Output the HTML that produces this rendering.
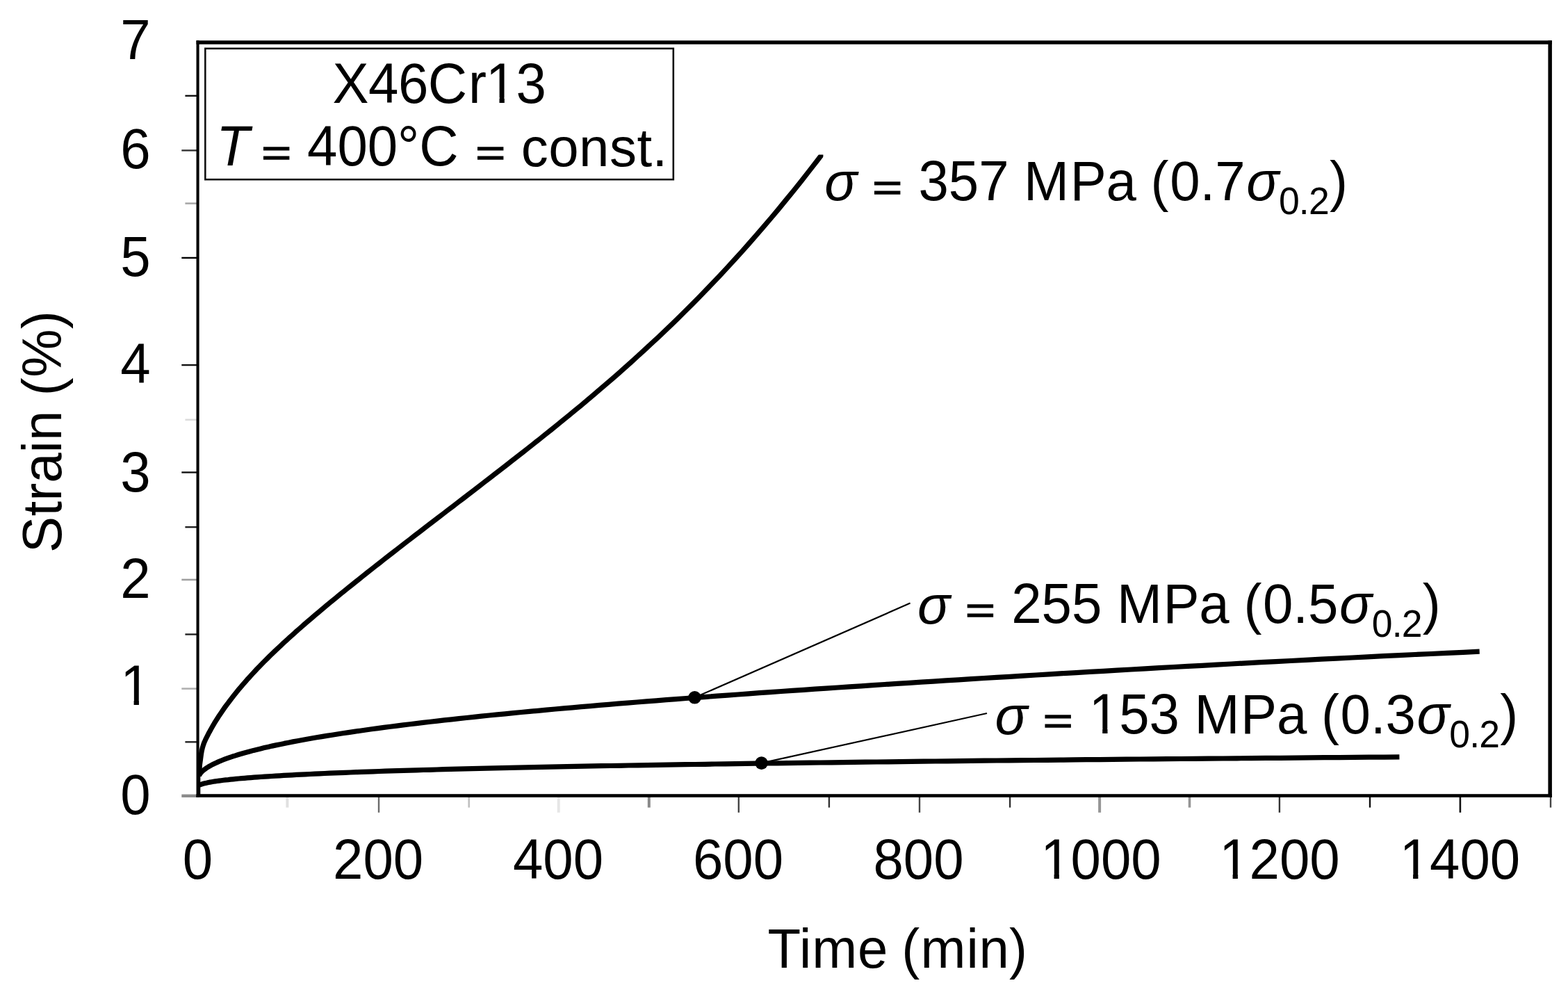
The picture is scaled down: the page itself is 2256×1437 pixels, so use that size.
<!DOCTYPE html>
<html lang="en">
<head>
<meta charset="utf-8">
<title>Creep curves of X46Cr13 at 400 °C</title>
<style>
html,body{margin:0;padding:0;background:#fff;}
body{width:2256px;height:1437px;overflow:hidden;}
svg{display:block;}
text{font-family:"Liberation Sans",sans-serif;font-size:78px;fill:#000;font-kerning:none;font-variant-ligatures:none;}
.i{font-style:italic;}
</style>
</head>
<body>
<svg xmlns="http://www.w3.org/2000/svg" width="2256" height="1437" viewBox="0 0 2256 1437">
<defs>
<filter id="soft" filterUnits="userSpaceOnUse" x="0" y="0" width="2256" height="1437" color-interpolation-filters="sRGB"><feGaussianBlur stdDeviation="0.70"/></filter>
<clipPath id="tipclip"><rect x="0" y="222.4" width="1184.4" height="1000"/></clipPath>
<clipPath id="f1"><path clip-rule="evenodd" d="M-3000 -3000H6000V6000H-3000ZM176.7 1007.3h15.9v10.5h-15.9ZM199.9 1007.3h15.4v10.5h-15.4Z"/></clipPath>
<clipPath id="f2"><path clip-rule="evenodd" d="M-3000 -3000H6000V6000H-3000ZM1500.7 1256.8h15.9v10.5h-15.9ZM1523.9 1256.8h15.4v10.5h-15.4Z"/></clipPath>
<clipPath id="f3"><path clip-rule="evenodd" d="M-3000 -3000H6000V6000H-3000ZM1757.7 1256.8h15.9v10.5h-15.9ZM1780.9 1256.8h15.4v10.5h-15.4Z"/></clipPath>
<clipPath id="f4"><path clip-rule="evenodd" d="M-3000 -3000H6000V6000H-3000ZM2017.2 1256.8h15.9v10.5h-15.9ZM2040.4 1256.8h15.4v10.5h-15.4Z"/></clipPath>
<clipPath id="f5"><path clip-rule="evenodd" d="M-3000 -3000H6000V6000H-3000ZM702.6 140.4h15.9v10.5h-15.9ZM725.8 140.4h15.4v10.5h-15.4Z"/></clipPath>
<clipPath id="f6"><path clip-rule="evenodd" d="M-3000 -3000H6000V6000H-3000ZM1570.3 1048.3h15.9v10.5h-15.9ZM1593.5 1048.3h15.4v10.5h-15.4Z"/></clipPath>
</defs>
<rect x="0" y="0" width="2256" height="1437" fill="#fff"/>
<g filter="url(#soft)">
<g fill="none">
<line x1="261.3" y1="990.6" x2="283.5" y2="990.6" stroke="#b0b0b0" stroke-width="2.6"/>
<line x1="261.3" y1="833.9" x2="283.5" y2="833.9" stroke="#a0a0a0" stroke-width="2.6"/>
<line x1="261.3" y1="679.5" x2="283.5" y2="679.5" stroke="#111" stroke-width="2.4"/>
<line x1="261.3" y1="525.1" x2="283.5" y2="525.1" stroke="#111" stroke-width="2.4"/>
<line x1="261.3" y1="370.9" x2="283.5" y2="370.9" stroke="#000" stroke-width="2.4"/>
<line x1="261.3" y1="216.4" x2="283.5" y2="216.4" stroke="#333" stroke-width="2.4"/>
<line x1="266.4" y1="1067.3" x2="283.5" y2="1067.3" stroke="#222" stroke-width="2.4"/>
<line x1="266.4" y1="912.5" x2="283.5" y2="912.5" stroke="#222" stroke-width="2.4"/>
<line x1="266.4" y1="758.2" x2="283.5" y2="758.2" stroke="#222" stroke-width="2.4"/>
<line x1="266.4" y1="603.8" x2="283.5" y2="603.8" stroke="#dcdcdc" stroke-width="2.6"/>
<line x1="266.4" y1="292.6" x2="283.5" y2="292.6" stroke="#a8a8a8" stroke-width="2.6"/>
<line x1="266.4" y1="137.8" x2="283.5" y2="137.8" stroke="#111" stroke-width="2.4"/>
<line x1="545.0" y1="1145.9" x2="545.0" y2="1168.8" stroke="#6a6a6a" stroke-width="2.4"/>
<line x1="803.7" y1="1145.9" x2="803.7" y2="1168.8" stroke="#e6e6e6" stroke-width="4.0"/>
<line x1="1062.8" y1="1145.9" x2="1062.8" y2="1168.8" stroke="#444" stroke-width="2.4"/>
<line x1="1323.0" y1="1145.9" x2="1323.0" y2="1168.8" stroke="#444" stroke-width="2.4"/>
<line x1="1582.1" y1="1145.9" x2="1582.1" y2="1168.8" stroke="#959595" stroke-width="4.0"/>
<line x1="1840.9" y1="1145.9" x2="1840.9" y2="1168.8" stroke="#333" stroke-width="2.4"/>
<line x1="2100.9" y1="1145.9" x2="2100.9" y2="1168.8" stroke="#111" stroke-width="2.6"/>
<line x1="413.4" y1="1145.9" x2="413.4" y2="1161.6" stroke="#e0e0e0" stroke-width="4.0"/>
<line x1="674.7" y1="1145.9" x2="674.7" y2="1161.6" stroke="#c0c0c0" stroke-width="2.6"/>
<line x1="933.8" y1="1145.9" x2="933.8" y2="1161.6" stroke="#888" stroke-width="4.0"/>
<line x1="1192.9" y1="1145.9" x2="1192.9" y2="1161.6" stroke="#333" stroke-width="2.4"/>
<line x1="1453.1" y1="1145.9" x2="1453.1" y2="1161.6" stroke="#333" stroke-width="2.4"/>
<line x1="1711.5" y1="1145.9" x2="1711.5" y2="1161.6" stroke="#959595" stroke-width="3.6"/>
<line x1="1971.0" y1="1145.9" x2="1971.0" y2="1161.6" stroke="#111" stroke-width="2.4"/>
<line x1="2231.0" y1="1145.9" x2="2231.0" y2="1161.6" stroke="#444" stroke-width="2.4"/>
<rect x="261.3" y="1142.6" width="22" height="4.4" fill="#8c8c8c" stroke="none"/>
</g>
<g fill="#000">
<rect x="282.5" y="58.3" width="4.1" height="1088.6"/>
<rect x="2227.4" y="58.3" width="5.5" height="1088.6"/>
<rect x="282.5" y="58.3" width="1950.4" height="5.4"/>
<rect x="282.5" y="1142.2" width="1950.4" height="4.7"/>
</g>
<rect x="285.0" y="1086.0" width="3.3" height="58.0" fill="#000"/>
<rect x="295.3" y="69.8" width="673.5" height="188.4" fill="none" stroke="#111" stroke-width="2.6"/>
<g fill="none" stroke="#000" stroke-width="7.2" stroke-linecap="butt" stroke-linejoin="round">
<path clip-path="url(#tipclip)" d="M286.9 1112.0 L287.3 1101.0 L288.6 1091.5 L289.4 1085.2 L290.3 1079.9 L291.3 1075.6 L292.4 1072.0 L293.5 1068.8 L294.7 1066.1 L295.9 1063.4 L297.3 1060.7 L298.7 1057.9 L300.1 1055.1 L301.7 1052.2 L303.3 1049.2 L305.0 1046.3 L306.7 1043.3 L308.5 1040.2 L310.4 1037.1 L312.4 1034.0 L314.4 1030.8 L316.5 1027.7 L318.7 1024.5 L320.9 1021.2 L323.2 1017.9 L325.6 1014.6 L328.1 1011.3 L330.6 1008.0 L333.2 1004.6 L335.8 1001.2 L338.6 997.8 L341.4 994.3 L344.2 990.8 L347.2 987.4 L350.2 983.8 L353.3 980.3 L356.4 976.7 L359.7 973.2 L362.9 969.6 L366.3 966.0 L369.7 962.3 L373.2 958.7 L376.8 955.0 L380.5 951.3 L384.2 947.6 L387.9 943.9 L391.8 940.2 L395.7 936.4 L399.7 932.6 L403.8 928.8 L407.9 924.9 L412.1 921.1 L416.4 917.2 L420.7 913.3 L425.1 909.3 L429.6 905.4 L434.2 901.4 L438.8 897.3 L443.5 893.3 L448.3 889.2 L453.1 885.1 L458.0 880.9 L463.0 876.7 L468.0 872.5 L473.1 868.3 L478.3 864.0 L483.6 859.7 L488.9 855.3 L494.3 851.0 L499.8 846.5 L505.3 842.1 L510.9 837.6 L516.6 833.1 L522.3 828.5 L528.1 823.9 L534.0 819.2 L540.0 814.5 L546.0 809.8 L552.1 805.0 L558.3 800.2 L564.5 795.4 L570.8 790.5 L577.2 785.5 L583.6 780.5 L590.2 775.5 L596.7 770.4 L603.4 765.3 L610.1 760.1 L616.9 754.9 L623.8 749.6 L630.7 744.3 L637.7 739.0 L644.8 733.5 L652.0 728.1 L659.2 722.5 L666.5 717.0 L673.8 711.3 L681.3 705.6 L688.8 699.9 L696.3 694.0 L704.0 688.2 L711.7 682.2 L719.5 676.2 L727.3 670.1 L735.2 663.9 L743.2 657.7 L751.3 651.4 L759.4 645.0 L767.6 638.5 L775.9 632.0 L784.2 625.3 L792.6 618.6 L801.1 611.8 L809.6 604.8 L818.3 597.8 L827.0 590.6 L835.7 583.4 L844.5 576.0 L853.4 568.5 L862.4 560.8 L871.5 553.1 L880.6 545.2 L889.8 537.2 L899.0 529.0 L908.3 520.7 L917.7 512.2 L927.2 503.5 L936.7 494.7 L946.3 485.8 L956.0 476.6 L965.7 467.3 L975.5 457.8 L985.4 448.0 L995.4 438.1 L1005.4 427.9 L1015.5 417.6 L1025.6 407.0 L1035.9 396.2 L1046.2 385.1 L1056.6 373.8 L1067.0 362.3 L1077.5 350.5 L1088.1 338.4 L1098.7 326.1 L1109.5 313.5 L1120.3 300.6 L1131.1 287.4 L1142.1 274.0 L1153.1 260.2 L1164.1 246.1 L1175.3 231.7 L1186.5 217.0"/>
<path d="M286.3 1115.6 L288.6 1112.0 L289.8 1110.7 L291.2 1109.3 L292.8 1108.0 L294.5 1106.7 L296.3 1105.3 L298.3 1104.0 L300.5 1102.7 L302.8 1101.4 L305.2 1100.0 L307.8 1098.7 L310.6 1097.4 L313.5 1096.1 L316.5 1094.8 L319.7 1093.5 L323.1 1092.2 L326.6 1090.9 L330.2 1089.6 L334.0 1088.3 L338.0 1087.1 L342.1 1085.8 L346.3 1084.5 L350.7 1083.2 L355.3 1082.0 L360.0 1080.7 L364.8 1079.4 L369.8 1078.2 L375.0 1076.9 L380.3 1075.6 L385.7 1074.4 L391.3 1073.1 L397.1 1071.9 L403.0 1070.7 L409.0 1069.4 L415.2 1068.2 L421.6 1066.9 L428.1 1065.7 L434.7 1064.5 L441.5 1063.3 L448.5 1062.0 L455.6 1060.8 L462.8 1059.6 L470.2 1058.4 L477.8 1057.2 L485.5 1056.0 L493.3 1054.8 L501.3 1053.6 L509.5 1052.4 L517.8 1051.2 L526.2 1050.0 L534.8 1048.8 L543.6 1047.6 L552.5 1046.4 L561.5 1045.3 L570.7 1044.1 L580.1 1042.9 L589.6 1041.7 L599.2 1040.6 L609.0 1039.4 L619.0 1038.2 L629.1 1037.1 L639.3 1035.9 L649.7 1034.8 L660.3 1033.6 L671.0 1032.5 L681.8 1031.3 L692.8 1030.2 L704.0 1029.0 L715.3 1027.9 L726.7 1026.8 L738.3 1025.6 L750.1 1024.5 L762.0 1023.4 L774.0 1022.3 L786.2 1021.1 L798.6 1020.0 L811.1 1018.9 L823.7 1017.8 L836.5 1016.7 L849.5 1015.6 L862.6 1014.4 L875.8 1013.3 L889.2 1012.2 L902.8 1011.1 L916.5 1010.0 L930.3 1008.9 L944.3 1007.8 L958.5 1006.7 L972.8 1005.6 L987.2 1004.5 L1001.8 1003.4 L1016.6 1002.3 L1031.5 1001.2 L1046.5 1000.1 L1061.7 999.0 L1077.1 997.8 L1092.6 996.7 L1108.2 995.6 L1124.0 994.5 L1140.0 993.4 L1156.1 992.3 L1172.3 991.2 L1188.7 990.1 L1205.3 989.0 L1222.0 987.9 L1238.8 986.8 L1255.8 985.7 L1273.0 984.5 L1290.3 983.4 L1307.7 982.3 L1325.3 981.2 L1343.1 980.1 L1361.0 978.9 L1379.0 977.8 L1397.2 976.7 L1415.6 975.5 L1434.1 974.4 L1452.7 973.3 L1471.5 972.1 L1490.5 971.0 L1509.6 969.8 L1528.8 968.7 L1548.2 967.6 L1567.8 966.4 L1587.5 965.3 L1607.3 964.1 L1627.3 963.0 L1647.5 961.8 L1667.8 960.7 L1688.2 959.5 L1708.8 958.4 L1729.6 957.3 L1750.5 956.1 L1771.5 955.0 L1792.7 953.8 L1814.1 952.7 L1835.6 951.6 L1857.2 950.5 L1879.0 949.3 L1901.0 948.2 L1923.1 947.1 L1945.3 946.0 L1967.7 944.9 L1990.3 943.7 L2013.0 942.6 L2035.8 941.5 L2058.8 940.5 L2082.0 939.4 L2105.3 938.3 L2128.7 937.2"/>
<path d="M286.3 1129.4 L288.6 1128.5 L289.8 1128.1 L291.2 1127.7 L292.6 1127.2 L294.3 1126.8 L296.0 1126.4 L297.9 1126.0 L300.0 1125.5 L302.2 1125.1 L304.5 1124.7 L307.0 1124.3 L309.6 1123.9 L312.3 1123.5 L315.2 1123.1 L318.2 1122.7 L321.4 1122.3 L324.7 1121.9 L328.2 1121.6 L331.7 1121.2 L335.5 1120.8 L339.3 1120.4 L343.3 1120.0 L347.5 1119.7 L351.8 1119.3 L356.2 1118.9 L360.8 1118.6 L365.5 1118.2 L370.3 1117.9 L375.3 1117.5 L380.5 1117.2 L385.7 1116.8 L391.1 1116.5 L396.7 1116.1 L402.4 1115.8 L408.2 1115.4 L414.2 1115.1 L420.3 1114.8 L426.5 1114.4 L432.9 1114.1 L439.5 1113.8 L446.1 1113.5 L452.9 1113.2 L459.9 1112.8 L467.0 1112.5 L474.2 1112.2 L481.6 1111.9 L489.1 1111.6 L496.8 1111.3 L504.5 1111.0 L512.5 1110.7 L520.5 1110.4 L528.8 1110.1 L537.1 1109.8 L545.6 1109.5 L554.2 1109.2 L563.0 1108.9 L571.9 1108.6 L581.0 1108.4 L590.2 1108.1 L599.5 1107.8 L609.0 1107.5 L618.6 1107.3 L628.3 1107.0 L638.2 1106.7 L648.3 1106.4 L658.4 1106.2 L668.8 1105.9 L679.2 1105.7 L689.8 1105.4 L700.5 1105.1 L711.4 1104.9 L722.4 1104.6 L733.6 1104.4 L744.9 1104.1 L756.3 1103.9 L767.9 1103.6 L779.6 1103.4 L791.5 1103.1 L803.5 1102.9 L815.6 1102.7 L827.9 1102.4 L840.3 1102.2 L852.9 1101.9 L865.6 1101.7 L878.4 1101.5 L891.4 1101.3 L904.5 1101.0 L917.7 1100.8 L931.1 1100.6 L944.7 1100.3 L958.4 1100.1 L972.2 1099.9 L986.1 1099.7 L1000.2 1099.5 L1014.5 1099.3 L1028.8 1099.0 L1043.4 1098.8 L1058.0 1098.6 L1072.8 1098.4 L1087.8 1098.2 L1102.8 1098.0 L1118.1 1097.8 L1133.4 1097.6 L1148.9 1097.4 L1164.6 1097.2 L1180.3 1097.0 L1196.3 1096.8 L1212.3 1096.6 L1228.5 1096.4 L1244.9 1096.2 L1261.3 1096.0 L1278.0 1095.8 L1294.7 1095.6 L1311.6 1095.4 L1328.7 1095.2 L1345.8 1095.0 L1363.2 1094.8 L1380.6 1094.6 L1398.2 1094.4 L1416.0 1094.2 L1433.9 1094.0 L1451.9 1093.9 L1470.0 1093.7 L1488.3 1093.5 L1506.8 1093.3 L1525.4 1093.1 L1544.1 1092.9 L1563.0 1092.7 L1582.0 1092.6 L1601.1 1092.4 L1620.4 1092.2 L1639.8 1092.0 L1659.4 1091.8 L1679.1 1091.7 L1698.9 1091.5 L1718.9 1091.3 L1739.0 1091.1 L1759.3 1091.0 L1779.7 1090.8 L1800.2 1090.6 L1820.9 1090.4 L1841.8 1090.3 L1862.7 1090.1 L1883.8 1089.9 L1905.1 1089.7 L1926.5 1089.6 L1948.0 1089.4 L1969.6 1089.2 L1991.5 1089.1 L2013.4 1088.9"/>
</g>
<g stroke="#000" stroke-width="2.2" fill="none">
<line x1="999.5" y1="1003.3" x2="1309.6" y2="867.6"/>
<line x1="1095.6" y1="1097.6" x2="1420.0" y2="1026.0"/>
</g>
<circle cx="999.5" cy="1003.3" r="9.3" fill="#000"/>
<circle cx="1095.6" cy="1097.6" r="9.3" fill="#000"/>
<text x="173.2" y="1171.0" transform="matrix(1 0 0 1.040 0 -46.84)">0</text>
<text x="173.2" y="1014.5" transform="matrix(1 0 0 1.040 0 -40.58)" clip-path="url(#f1)">1</text>
<text x="173.2" y="860.0" transform="matrix(1 0 0 1.040 0 -34.40)">2</text>
<text x="173.2" y="707.0" transform="matrix(1 0 0 1.040 0 -28.28)">3</text>
<text x="173.2" y="551.5" transform="matrix(1 0 0 1.040 0 -22.06)">4</text>
<text x="173.2" y="397.0" transform="matrix(1 0 0 1.040 0 -15.88)">5</text>
<text x="173.2" y="241.8" transform="matrix(1 0 0 1.040 0 -9.67)">6</text>
<text x="173.2" y="85.5" transform="matrix(1 0 0 1.040 0 -3.42)">7</text>
<text x="262.7" y="1264.0" transform="matrix(1 0 0 1.040 0 -50.56)">0</text>
<text x="479.1" y="1264.0" transform="matrix(1 0 0 1.040 0 -50.56)">200</text>
<text x="737.9" y="1264.0" transform="matrix(1 0 0 1.040 0 -50.56)">400</text>
<text x="997.0" y="1264.0" transform="matrix(1 0 0 1.040 0 -50.56)">600</text>
<text x="1256.4" y="1264.0" transform="matrix(1 0 0 1.040 0 -50.56)">800</text>
<text x="1497.2" y="1264.0" transform="matrix(1 0 0 1.040 0 -50.56)" clip-path="url(#f2)">1000</text>
<text x="1754.2" y="1264.0" transform="matrix(1 0 0 1.040 0 -50.56)" clip-path="url(#f3)">1200</text>
<text x="2013.7" y="1264.0" transform="matrix(1 0 0 1.040 0 -50.56)" clip-path="url(#f4)">1400</text>
<text x="1104.6" y="1392.0" transform="matrix(1 0 0 1.030 0 -41.76)">T<tspan x="1149.9" y="1392.0" letter-spacing="0.95">ime</tspan> </text>
<text x="1297.3" y="1392.0" transform="matrix(1 0 0 1.010 0 -13.92)">(<tspan x="1324.6" y="1392.0" letter-spacing="0.83">min</tspan><tspan x="1452.0" y="1392.0">)</tspan></text>
<text x="5.1" y="0.0" transform="translate(87.5 800) rotate(-90) matrix(1 0 0 1.030 0 -0.00)">S<tspan x="57.5" y="0.0" letter-spacing="0.04">train</tspan> </text>
<text x="230.8" y="0.0" transform="translate(87.5 800) rotate(-90) matrix(1 0 0 1.030 0 -0.00)">(<tspan x="257.3" y="0.0">%</tspan><tspan x="326.8" y="0.0">)</tspan></text>
<text x="478.6" y="147.6" transform="matrix(1 0 0 1.040 0 -5.90)" clip-path="url(#f5)"><tspan letter-spacing="-0.53">X46C</tspan><tspan x="674.1" y="147.6">r</tspan><tspan x="699.1" y="147.6">13</tspan></text>
<text x="311.2" y="238.5" transform="matrix(1 0 0 1.040 0 -9.54)"><tspan class="i">T</tspan> </text>
<text transform="matrix(0.942 0 0 0.682 376.31 238.36)" x="0" y="0" stroke="#000" stroke-width="1.87">= </text>
<text x="442.1" y="238.5" transform="matrix(1 0 0 1.040 0 -9.54)"><tspan letter-spacing="-0.03">400°C</tspan> </text>
<text transform="matrix(0.942 0 0 0.682 684.31 238.36)" x="0" y="0" stroke="#000" stroke-width="1.87">= </text>
<text x="749.7" y="238.5"><tspan letter-spacing="0.49">const.</tspan></text>
<text x="1186.2" y="288.3"><tspan class="i">σ</tspan> </text>
<text transform="matrix(0.942 0 0 0.682 1255.31 288.16)" x="0" y="0" stroke="#000" stroke-width="1.87">= </text>
<text x="1321.4" y="288.3" transform="matrix(1 0 0 1.040 0 -11.53)">357 </text>
<text x="1473.1" y="288.3" transform="matrix(1 0 0 1.030 0 -8.65)"><tspan letter-spacing="1.60">MP</tspan><tspan x="1591.5" y="288.3">a</tspan> </text>
<text x="1655.6" y="288.3" transform="matrix(1 0 0 1.030 0 -8.65)">(<tspan x="1683.2" y="288.3">0.7</tspan><tspan x="1793.2" y="288.3" class="i">σ</tspan><tspan x="1839.9" y="307.1" style="font-size:53.5px" letter-spacing="-0.80">0.2</tspan><tspan x="1912.9" y="288.3">)</tspan></text>
<text x="1320.0" y="896.5"><tspan class="i">σ</tspan> </text>
<text transform="matrix(0.942 0 0 0.682 1389.11 896.36)" x="0" y="0" stroke="#000" stroke-width="1.87">= </text>
<text x="1455.2" y="896.5" transform="matrix(1 0 0 1.040 0 -35.86)">255 </text>
<text x="1606.9" y="896.5" transform="matrix(1 0 0 1.030 0 -26.90)"><tspan letter-spacing="1.60">MP</tspan><tspan x="1725.3" y="896.5">a</tspan> </text>
<text x="1789.4" y="896.5" transform="matrix(1 0 0 1.030 0 -26.90)">(<tspan x="1817.0" y="896.5">0.5</tspan><tspan x="1927.0" y="896.5" class="i">σ</tspan><tspan x="1973.7" y="915.3" style="font-size:53.5px" letter-spacing="-0.80">0.2</tspan><tspan x="2046.7" y="896.5">)</tspan></text>
<text x="1431.6" y="1055.5"><tspan class="i">σ</tspan> </text>
<text transform="matrix(0.942 0 0 0.682 1500.71 1055.36)" x="0" y="0" stroke="#000" stroke-width="1.87">= </text>
<text x="1566.8" y="1055.5" transform="matrix(1 0 0 1.040 0 -42.22)" clip-path="url(#f6)">153 </text>
<text x="1718.5" y="1055.5" transform="matrix(1 0 0 1.030 0 -31.67)"><tspan letter-spacing="1.60">MP</tspan><tspan x="1836.9" y="1055.5">a</tspan> </text>
<text x="1901.0" y="1055.5" transform="matrix(1 0 0 1.030 0 -31.67)">(<tspan x="1928.6" y="1055.5">0.3</tspan><tspan x="2038.6" y="1055.5" class="i">σ</tspan><tspan x="2085.3" y="1074.3" style="font-size:53.5px" letter-spacing="-0.80">0.2</tspan><tspan x="2158.3" y="1055.5">)</tspan></text>
</g>
</svg>
</body>
</html>
